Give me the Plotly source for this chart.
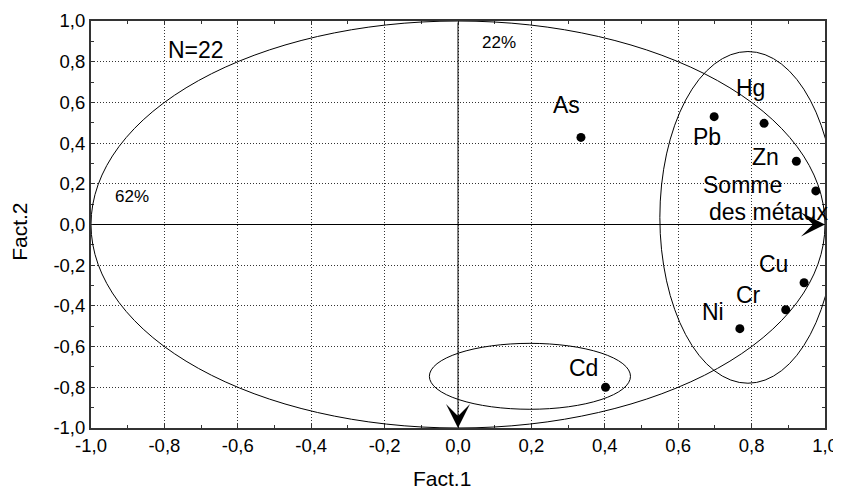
import numpy as np
import plotly.graph_objects as go

# ---- data ----
names = ["As", "Pb", "Hg", "Zn", "Somme des métaux", "Cu", "Cr", "Ni", "Cd"]
fact1 = [0.335, 0.698, 0.834, 0.922, 0.975, 0.943, 0.893, 0.768, 0.402]
fact2 = [0.428, 0.530, 0.497, 0.311, 0.165, -0.286, -0.419, -0.512, -0.800]

# label positions (data coords)
label_text = ["As", "Pb", "Hg", "Zn", "Somme", "des métaux", "Cu", "Cr", "Ni", "Cd"]
label_x = [0.296, 0.678, 0.796, 0.837, 0.776, 0.847, 0.859, 0.791, 0.694, 0.343]
label_y = [0.587, 0.431, 0.669, 0.333, 0.194, 0.063, -0.194, -0.346, -0.428, -0.704]

tick_vals = [-1.0, -0.8, -0.6, -0.4, -0.2, 0.0, 0.2, 0.4, 0.6, 0.8, 1.0]
tick_text = ["-1,0", "-0,8", "-0,6", "-0,4", "-0,2", "0,0", "0,2", "0,4", "0,6", "0,8", "1,0"]

# ellipses: (cx, cy, rx, ry)
ellipses = [
    (0.0, 0.0, 1.0, 1.0),
    (0.79, 0.035, 0.24, 0.815),
    (0.196, -0.746, 0.274, 0.162),
]

FONT = "Liberation Sans, Arial, sans-serif"

fig = go.Figure()

for cx, cy, rx, ry in ellipses:
    fig.add_shape(type="circle", xref="x", yref="y",
                  x0=cx - rx, x1=cx + rx, y0=cy - ry, y1=cy + ry,
                  line=dict(color="black", width=1), layer="above")

fig.add_trace(go.Scatter(x=fact1, y=fact2, mode="markers",
                         marker=dict(color="black", size=9),
                         hovertext=names, showlegend=False, cliponaxis=False))

for t, x, y in zip(label_text, label_x, label_y):
    fig.add_annotation(x=x, y=y, text=t, showarrow=False,
                       font=dict(family=FONT, size=23, color="black"))

fig.add_annotation(x=-0.715, y=0.857, text="N=22", showarrow=False,
                   font=dict(family=FONT, size=23, color="black"))
fig.add_annotation(x=-0.889, y=0.140, text="62%", showarrow=False,
                   font=dict(family=FONT, size=17, color="black"))
fig.add_annotation(x=0.112, y=0.893, text="22%", showarrow=False,
                   font=dict(family=FONT, size=17, color="black"))

# axes arrows
fig.add_annotation(x=1.0, y=0.0, ax=-1.0, ay=0.0, xref="x", yref="y",
                   axref="x", ayref="y", text="", showarrow=True,
                   arrowhead=3, arrowsize=4, arrowwidth=1, arrowcolor="black")
fig.add_annotation(x=0.0, y=-1.0, ax=0.0, ay=1.0, xref="x", yref="y",
                   axref="x", ayref="y", text="", showarrow=True,
                   arrowhead=3, arrowsize=4, arrowwidth=1, arrowcolor="black")

# axis titles
fig.add_annotation(x=0.478, y=-0.123, xref="paper", yref="paper", text="Fact.1",
                   xanchor="center", yanchor="middle",
                   showarrow=False, font=dict(family=FONT, size=21, color="black"))
fig.add_annotation(x=-0.0967, y=0.482, xref="paper", yref="paper", text="Fact.2",
                   xanchor="center", yanchor="middle",
                   textangle=-90, showarrow=False,
                   font=dict(family=FONT, size=21, color="black"))

axis_common = dict(
    range=[-1.0, 1.0], tickvals=tick_vals, ticktext=tick_text,
    showgrid=True, gridcolor="#333", griddash="1px,2px", gridwidth=1,
    zeroline=False, showline=True, linecolor="#333", linewidth=2,
    mirror="allticks", ticks="inside", ticklen=4, tickcolor="#333",
    minor=dict(dtick=0.1, ticks="inside", ticklen=3, tickcolor="#333", showgrid=False),
    tickfont=dict(family=FONT, size=18.5, color="black"),
    automargin=False,
)

fig.update_xaxes(**axis_common)
fig.update_yaxes(**axis_common)

# page body has an 8px default margin, so the figure is sized to compensate
fig.update_layout(
    width=833, height=483,
    margin=dict(l=83, r=16, t=13, b=63),
    plot_bgcolor="white", paper_bgcolor="white",
    showlegend=False,
)

fig.write_html("out.html")
